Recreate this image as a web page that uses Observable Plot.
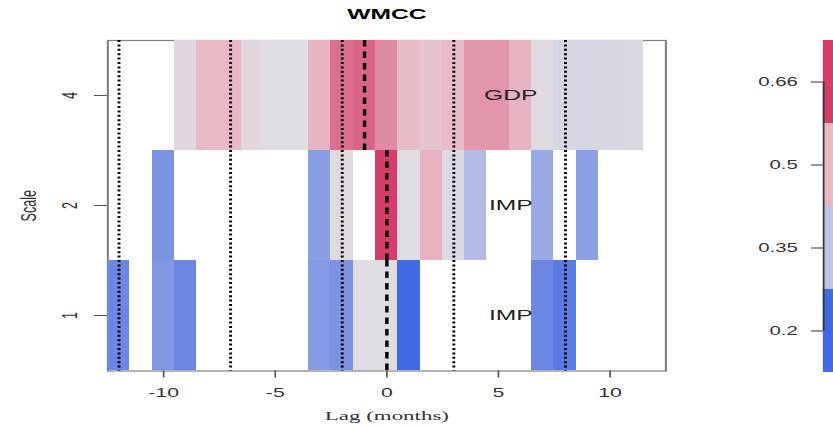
<!DOCTYPE html>
<html>
<head>
<meta charset="utf-8">
<script src="https://cdn.jsdelivr.net/npm/d3@7"></script>
<script src="https://cdn.jsdelivr.net/npm/@observablehq/plot@0.6"></script>
<style>
  body { margin: 0; background: #fff; }
  #chart { position: relative; width: 833px; height: 428px; overflow: hidden; }
  #chart svg { position: absolute; left: 0; top: 0; }
</style>
</head>
<body>
<div id="chart"></div>
<script>
// Lags (months) of the cross-correlation grid
const lags = [-12, -11, -10, -9, -8, -7, -6, -5, -4, -3, -2, -1, 0, 1, 2, 3, 4, 5, 6, 7, 8, 9, 10, 11, 12];

// Wavelet scales shown as rows, and the variable that leads at each scale
const scaleLevels = ["1", "2", "4"];
const seriesNames = ["IMP", "IMP", "GDP"];

// WMCC values per lag for each scale (null = not significant, left blank)
const wmccScale1 = [0.25, null, 0.275, 0.25, null, null, null, null, null, 0.28, 0.27, 0.43, 0.43, 0.20, null, null, null, null, null, 0.25, 0.23, null, null, null, null];
const wmccScale2 = [null, null, 0.27, null, null, null, null, null, null, 0.285, 0.435, null, 0.66, 0.43, 0.51, 0.42, 0.335, null, null, 0.305, null, 0.29, null, null, null];
const wmccScale4 = [null, null, null, 0.44, 0.50, 0.50, 0.44, 0.43, 0.43, 0.505, 0.595, 0.61, 0.56, 0.495, 0.478, 0.494, 0.545, 0.545, 0.505, 0.436, 0.41, 0.405, 0.41, 0.412, null];

// Lag of the strongest correlation at each scale
const peakLags = [0, 0, -1];

// Reference lags marked with dotted lines
const guideLags = [-12, -7, -2, 3, 8];
const xTicks = [-10, -5, 0, 5, 10];

// Colour bar
const legendValues = [0.2, 0.35, 0.5, 0.66];
const legendLabels = ["0.2", "0.35", "0.5", "0.66"];

// Blue - grey - red palette
const colorStops = [0.2, 0.35, 0.43, 0.5, 0.66];
const colorRange = ["#4169e1", "#c0c4e4", "#dfdde2", "#e8b9c5", "#d43d6a"];

// The chart is laid out on a narrow canvas and stretched to the page width
const W = 490, H = 428;
const PAGE_W = 833, PAGE_H = 428;

const rows = [wmccScale1, wmccScale2, wmccScale4];
const cells = [];
rows.forEach((vals, r) => vals.forEach((v, i) => {
  if (v != null) cells.push({lag: lags[i], scale: scaleLevels[r], value: v});
}));
const peaks = peakLags.map((lag, r) => ({lag, scale: scaleLevels[r]}));
const rowLabels = seriesNames.map((name, r) => ({name, scale: scaleLevels[r]}));

const color = {type: "linear", domain: colorStops, range: colorRange};
const sans = "'Liberation Sans', Arial, sans-serif";

const main = Plot.plot({
  width: W, height: H,
  marginLeft: 62.94, marginRight: 98.8, marginTop: 40, marginBottom: 57.5,
  style: {fontFamily: sans, fontSize: "12.5px", color: "#333"},
  x: {domain: [-12.5, 12.5]},
  y: {type: "band", domain: [...scaleLevels].reverse(), padding: 0},
  color,
  marks: [
    Plot.frame({stroke: "#7f7f7f", strokeWidth: 1.2}),
    Plot.barX(cells, {
      x1: d => d.lag - 0.5, x2: d => d.lag + 0.5, y: "scale",
      fill: "value", shapeRendering: "crispEdges"
    }),
    Plot.ruleX(guideLags, {stroke: "#000", strokeWidth: 1.7, strokeDasharray: "2,2.4"}),
    Plot.tickX(peaks, {x: "lag", y: "scale", stroke: "#000", strokeWidth: 2, strokeDasharray: "6.5,5"}),
    Plot.text(rowLabels, {y: "scale", text: "name", frameAnchor: "middle", dx: 72.9, fontSize: 14.5, fill: "#222"}),
    Plot.axisX({ticks: xTicks, tickFormat: d => String(d), tickSize: 7, tickPadding: 10, label: null, stroke: "#555"}),
    Plot.axisY({tickSize: 7.6, tickFormat: () => "", label: null, stroke: "#555"}),
    Plot.text(scaleLevels, {y: d => d, text: d => d, frameAnchor: "left", textAnchor: "middle", lineAnchor: "middle", dx: -22.3, rotate: -90}),
    Plot.text(["Scale"], {text: d => d, frameAnchor: "left", textAnchor: "middle", lineAnchor: "middle", dx: -46.5, rotate: -90}),
    Plot.text(["Lag (months)"], {text: d => d, frameAnchor: "bottom", lineAnchor: "middle", dy: 44.5, fontFamily: "'Liberation Serif', serif", fontSize: 13.5}),
    Plot.text(["WMCC"], {text: d => d, frameAnchor: "top", lineAnchor: "middle", dy: -26, fontWeight: "bold", fontSize: 14.5, fill: "#000"})
  ]
});

// Colour bar on the right edge
const legendRows = legendValues.map((v, i) => ({v, i}));
const legend = Plot.plot({
  width: W, height: H,
  marginLeft: 484, marginRight: 0, marginTop: 40, marginBottom: 56,
  style: {fontFamily: sans, fontSize: "12px", color: "#333"},
  x: {domain: [0, 1], axis: null},
  y: {domain: [-0.5, legendValues.length - 0.5]},
  color,
  marks: [
    Plot.rect(legendRows, {y1: d => d.i - 0.5, y2: d => d.i + 0.5, fill: "v"}),
    Plot.ruleX([0], {y1: 0, y2: legendValues.length - 1, stroke: "#333"}),
    Plot.axisY({ticks: legendRows.map(d => d.i), tickFormat: i => legendLabels[i], tickSize: 7, tickPadding: 8.2, label: null})
  ]
});

const chart = document.getElementById("chart");
for (const svg of [main, legend]) {
  svg.setAttribute("width", PAGE_W);
  svg.setAttribute("height", PAGE_H);
  svg.setAttribute("preserveAspectRatio", "none");
  svg.style.width = PAGE_W + "px";
  svg.style.height = PAGE_H + "px";
  svg.style.maxWidth = "none";
  chart.appendChild(svg);
}
legend.style.background = "transparent";
</script>
</body>
</html>
